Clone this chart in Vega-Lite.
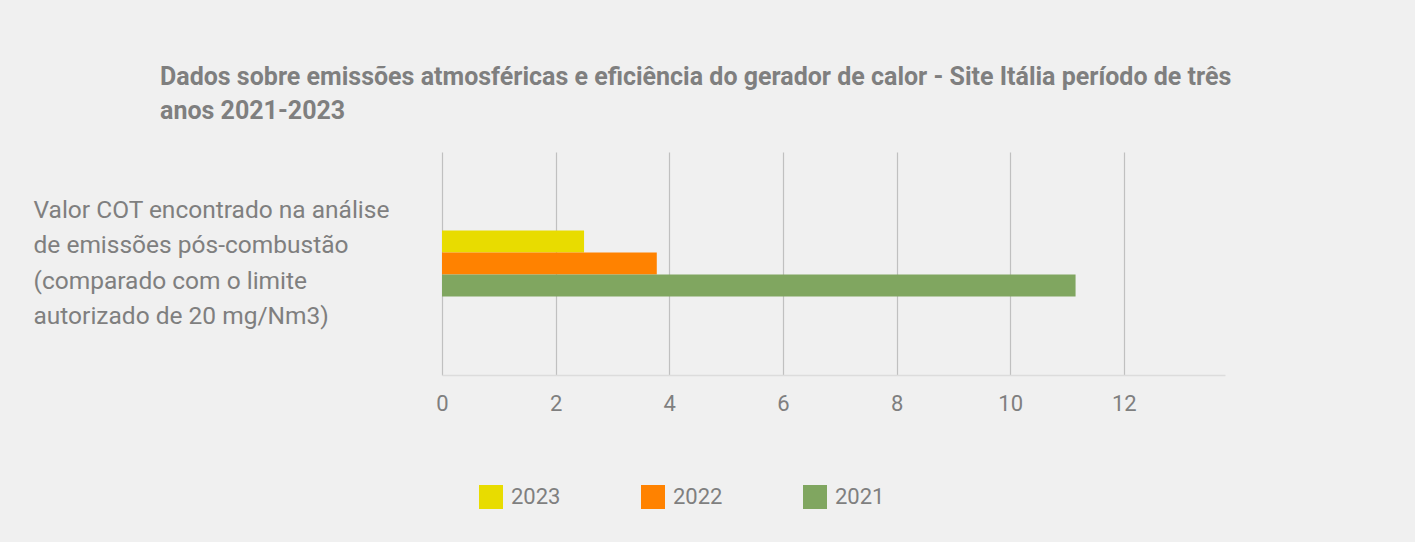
{
  "$schema": "https://vega.github.io/schema/vega-lite/v6.json",
  "width": 783,
  "height": 223,
  "autosize": {"type": "none"},
  "padding": {"left": 442, "top": 152, "right": 190, "bottom": 167},
  "background": "#f0f0f0",
  "title": {
    "text": ["Dados sobre emissões atmosféricas e eficiência do gerador de calor - Site Itália período de três", "anos 2021-2023"],
    "anchor": "start",
    "frame": "group",
    "dx": -282,
    "dy": 2,
    "offset": 30,
    "font": "Roboto",
    "fontSize": 25,
    "fontWeight": "bold",
    "color": "#7f7f7f",
    "lineHeight": 34
  },
  "data": {
    "values": [
      {"category": "Valor COT encontrado na análise de emissões pós-combustão (comparado com o limite autorizado de 20 mg/Nm3)", "year": "2023", "value": 2.5},
      {"category": "Valor COT encontrado na análise de emissões pós-combustão (comparado com o limite autorizado de 20 mg/Nm3)", "year": "2022", "value": 3.78},
      {"category": "Valor COT encontrado na análise de emissões pós-combustão (comparado com o limite autorizado de 20 mg/Nm3)", "year": "2021", "value": 11.15}
    ]
  },
  "mark": {"type": "bar"},
  "encoding": {
    "y": {
      "field": "category",
      "type": "nominal",
      "scale": {"paddingInner": 0.159, "paddingOuter": 1},
      "axis": {
        "title": null,
        "domain": false,
        "ticks": false,
        "grid": false,
        "labelAlign": "left",
        "labelBaseline": "middle",
        "labelPadding": 409,
        "labelOffset": -53,
        "labelFont": "Roboto",
        "labelFontSize": 24.5,
        "labelColor": "#7f7f7f",
        "labelLineHeight": 35.5,
        "labelLimit": 0,
        "labelExpr": "['Valor COT encontrado na análise', 'de emissões pós-combustão', '(comparado com o limite', 'autorizado de 20 mg/Nm3)']"
      }
    },
    "yOffset": {
      "field": "year",
      "type": "nominal",
      "sort": ["2023", "2022", "2021"],
      "scale": {"paddingInner": 0, "paddingOuter": 0}
    },
    "x": {
      "field": "value",
      "type": "quantitative",
      "scale": {"domain": [0, 13.78], "nice": false, "zero": true},
      "axis": {
        "title": null,
        "values": [0, 2, 4, 6, 8, 10, 12],
        "ticks": false,
        "grid": true,
        "gridColor": "#c0c0c0",
        "gridWidth": 1.2,
        "domainColor": "#dcdcdc",
        "domainWidth": 1.5,
        "labelFont": "Roboto",
        "labelFontSize": 22,
        "labelColor": "#7f7f7f",
        "labelPadding": 18,
        "labelFlush": false
      }
    },
    "color": {
      "field": "year",
      "type": "nominal",
      "sort": ["2023", "2022", "2021"],
      "scale": {"domain": ["2023", "2022", "2021"], "range": ["#e8dc00", "#ff8200", "#80a660"]},
      "legend": {
        "title": null,
        "orient": "none",
        "legendX": 37,
        "legendY": 333,
        "direction": "horizontal",
        "symbolType": "square",
        "symbolSize": 576,
        "symbolStrokeWidth": 0,
        "symbolOpacity": 1,
        "labelFont": "Roboto",
        "labelFontSize": 22,
        "labelColor": "#7f7f7f",
        "labelOffset": 8,
        "columnPadding": 80
      }
    }
  },
  "config": {
    "view": {"stroke": null},
    "axis": {"gridDash": []}
  }
}
